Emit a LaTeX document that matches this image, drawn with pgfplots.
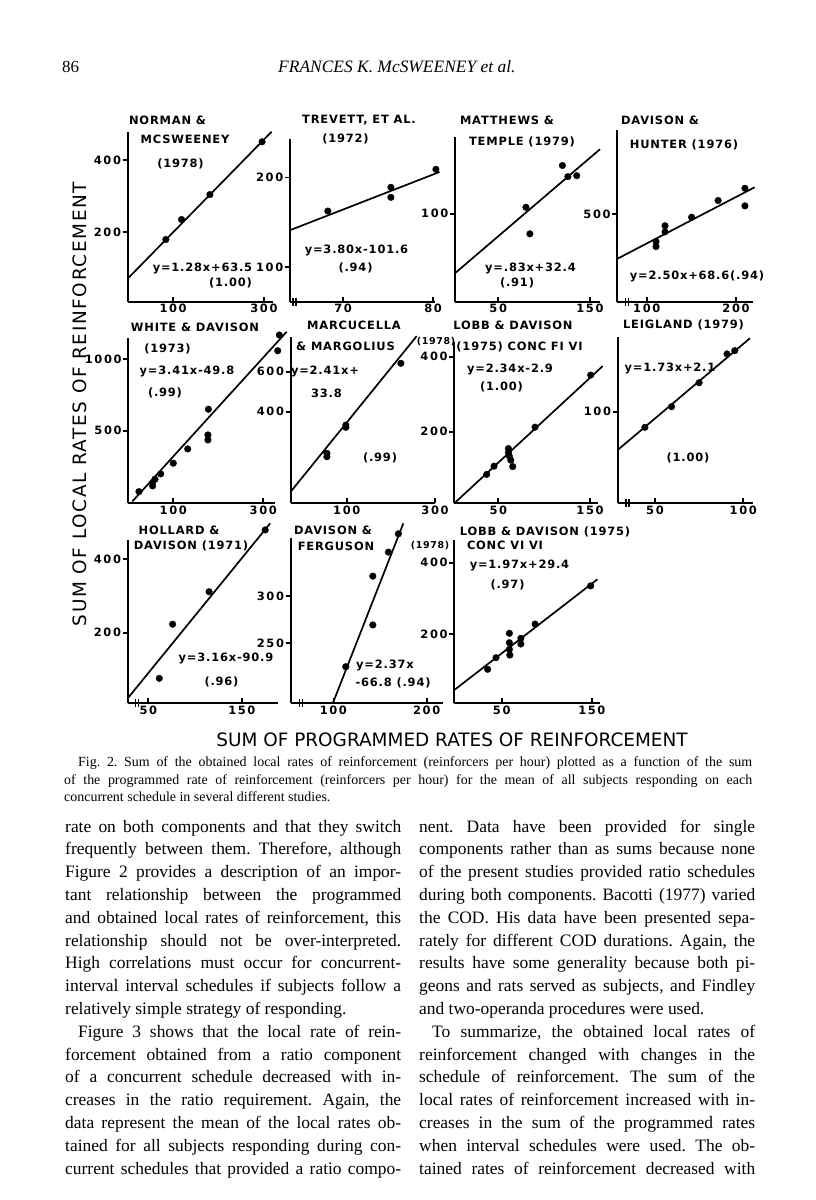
\documentclass[border=0pt]{standalone}
\usepackage{pgfplots}
\pgfplotsset{compat=1.18}
\usepackage{fontspec}
\setmainfont{Liberation Serif}
\newfontfamily\letfont[LetterSpace=7]{DejaVu Sans}
\newfontfamily\tickfam[LetterSpace=14]{DejaVu Sans}
\newfontfamily\labfont{DejaVu Sans}
\newfontfamily\ylabfont[LetterSpace=9]{DejaVu Sans}
\newcommand\LT{\letfont\bfseries\fontsize{11.5}{13}\selectfont}
\newcommand\LTs{\letfont\bfseries\fontsize{9.5}{10}\selectfont}
\newcommand\TK{\tickfam\bfseries\fontsize{11.5}{13}\selectfont}
\pgfplotsset{panel/.style={scale only axis, anchor=south west, clip=false,
  axis x line=bottom, axis y line=left, axis line style={-, line width=2.2bp},
  xtick align=inside, ytick align=outside, major tick length=5bp,
  tick style={black, line width=1.7bp},
  /pgf/number format/assume math mode=true,
  /pgf/number format/1000 sep={},
  scaled ticks=false,
  tick label style={font=\TK},
  xticklabel style={inner sep=2bp},
  yticklabel style={inner sep=1.5bp}},
  fit/.style={black, line width=1.7bp, mark=none},
  pts/.style={black, only marks, mark=*, mark size=3.3bp, mark options={fill=black}}}
\newcommand\bl[3]{\node[anchor=base west, inner sep=0pt, font=\fontsize{17.5}{20}\selectfont] at (#1bp,-#2bp) {\makebox[336bp][s]{#3}};}
\newcommand\nl[3]{\node[anchor=base west, inner sep=0pt, font=\fontsize{17.5}{20}\selectfont] at (#1bp,-#2bp) {#3};}
\newcommand\T[3]{\node[font=\LT, inner sep=0pt] at (#1bp,-#2bp) {#3};}
\begin{document}
\frenchspacing
\begin{tikzpicture}
\path[fill=white] (0,0) rectangle (816bp,-1200bp);
% ---------- header
\node[anchor=base west, inner sep=0pt, font=\fontsize{17}{20}\selectfont] at (62bp,-72bp) {86};
\node[anchor=base west, inner sep=0pt, font=\fontsize{17.5}{20}\selectfont\itshape] at (278bp,-72bp) {FRANCES K. McSWEENEY et al.};
% ---------- row 1
\begin{axis}[panel, at={(127.7bp,-302bp)}, width=145.3bp, height=170.3bp,
  xmin=0, xmax=320, ymin=5, ymax=479, xtick={100,300}, ytick={200,400}]
\addplot[fit] coordinates {(0,70) (317,479)};
\addplot[pts] coordinates {(84,179) (118.5,234.6) (181,304) (296,451)};
\end{axis}
\begin{axis}[panel, at={(290bp,-302bp)}, width=145bp, height=162.7bp,
  xmin=64.1, xmax=80.2, ymin=60.8, ymax=242.5, xtick={70,80}, ytick={100,200}]
\addplot[fit] coordinates {(64.1,141) (80.7,206)};
\addplot[pts] coordinates {(68.3,162.4) (75.3,188.9) (75.3,177.7) (80.3,209)};
\end{axis}
\begin{axis}[panel, at={(455bp,-302bp)}, width=145bp, height=165.3bp,
  xmin=2.8, xmax=161, ymin=5, ymax=183, xtick={50,150}, ytick={100}]
\addplot[fit] coordinates {(2.8,36) (161,169.5)};
\addplot[pts] coordinates {(80.2,107) (84.5,78.4) (120,152) (126,140) (135.6,141)};
\end{axis}
\begin{axis}[panel, at={(617.3bp,-302bp)}, width=136bp, height=172bp,
  xmin=67, xmax=219.4, ymin=25, ymax=952, xtick={100,200}, ytick={500}]
\addplot[fit] coordinates {(67,258) (221,643.5)};
\addplot[pts] coordinates {(110.4,351) (110.4,324) (120.5,436) (120.5,403) (150.3,482) (180,572) (210,638) (210,543)};
\end{axis}
% ---------- row 2
\begin{axis}[panel, at={(128.3bp,-503.3bp)}, width=146.7bp, height=165bp,
  xmin=0, xmax=326, ymin=-9, ymax=1147, xtick={100,300}, ytick={500,1000}]
\addplot[fit] coordinates {(9,4) (352,1193)};
\addplot[pts] coordinates {(23.7,73) (54,136) (54,113) (59.3,160) (72,197) (100,272) (132,372) (178,650) (177,470) (177,435) (332,1060) (335.6,1170)};
\end{axis}
\begin{axis}[panel, at={(290.7bp,-503.3bp)}, width=144.3bp, height=166.6bp,
  xmin=-27, xmax=300, ymin=-58, ymax=775, xtick={100,300}, ytick={400,600}]
\addplot[fit] coordinates {(-27,0) (258.5,778)};
\addplot[pts] coordinates {(55,192) (55,175) (98,333) (98,322) (222.6,642)};
\end{axis}
\begin{axis}[panel, at={(454.3bp,-503.3bp)}, width=144bp, height=161.6bp,
  xmin=2, xmax=159, ymin=9, ymax=440, xtick={50,150}, ytick={200,400}]
\addplot[fit] coordinates {(2,9) (163.8,375)};
\addplot[pts] coordinates {(37.3,86) (45.3,108) (61,155) (61,144) (62,135) (63.6,124) (65.7,107) (90,212) (150.7,351)};
\end{axis}
\begin{axis}[panel, at={(617.7bp,-503.3bp)}, width=135.6bp, height=166.6bp,
  xmin=28.9, xmax=105.7, ymin=-6.3, ymax=187, xtick={50,100}, ytick={100}]
\addplot[fit] coordinates {(28.9,55.6) (103.8,185.2)};
\addplot[pts] coordinates {(44.3,81.9) (59.4,105.8) (75,133.6) (90.8,167) (95.2,170.8)};
\end{axis}
% ---------- row 3
\begin{axis}[panel, at={(127.7bp,-703.3bp)}, width=150.6bp, height=163.3bp,
  xmin=28, xmax=189, ymin=7.5, ymax=452.6, xtick={50,150}, ytick={200,400}]
\addplot[fit] coordinates {(28,21) (180.3,498)};
\addplot[pts] coordinates {(61.8,75.6) (76,223) (115,311.6) (175,480)};
\end{axis}
\begin{axis}[panel, at={(290.7bp,-703.3bp)}, width=152.6bp, height=165bp,
  xmin=54.3, xmax=217.8, ymin=186.6, ymax=361, xtick={100,200}, ytick={250,300}]
\addplot[fit] coordinates {(99.4,186.6) (175,376.8)};
\addplot[pts] coordinates {(113.3,225.3) (142.3,269.4) (142.3,321) (159,346.4) (169.7,365.8)};
\end{axis}
\begin{axis}[panel, at={(454.3bp,-703.3bp)}, width=145.7bp, height=163.3bp,
  xmin=-2.6, xmax=159, ymin=5.7, ymax=463.6, xtick={50,150}, ytick={200,400}]
\addplot[fit] coordinates {(-2.6,43) (156.2,353.5)};
\addplot[pts] coordinates {(34.4,101) (43.7,133.6) (58.5,202) (58.5,175.6) (58.5,157) (59,141) (71.2,188) (71.2,172) (87,228) (148.6,335)};
\end{axis}
% ---------- axis break marks
\foreach \bx/\by in {293/302, 625.5/302, 626/503.3, 135.5/703.3, 299.5/703.3}{
  \draw[line width=1.1bp] (\bx bp,-\by bp+4bp) -- (\bx bp,-\by bp-4bp) (\bx bp+3bp,-\by bp+4bp) -- (\bx bp+3bp,-\by bp-4bp);}
% ---------- panel lettering
\T{167.5}{120}{NORMAN \&}
\T{185}{139.3}{MCSWEENEY}
\T{180.5}{164}{(1978)}
\T{202.5}{268}{y=1.28x+63.5}
\T{230.5}{283}{(1.00)}
\T{359}{120}{TREVETT, ET AL.}
\T{345.5}{139}{(1972)}
\T{356.5}{250}{y=3.80x-101.6}
\T{355.5}{268}{(.94)}
\T{507}{120}{MATTHEWS \&}
\T{522}{141.7}{TEMPLE (1979)}
\T{530.5}{268}{y=.83x+32.4}
\T{517}{283}{(.91)}
\T{660}{120}{DAVISON \&}
\T{684}{145}{HUNTER (1976)}
\T{697}{276.7}{y=2.50x+68.6(.94)}
\T{195}{327.3}{WHITE \& DAVISON}
\T{167.5}{349.3}{(1973)}
\T{187}{371.7}{y=3.41x-49.8}
\T{165}{393.3}{(.99)}
\T{354}{325}{MARCUCELLA}
\T{345.5}{346.7}{\& MARGOLIUS}
\T{325}{371.7}{y=2.41x+}
\T{326.5}{393.3}{33.8}
\T{380}{458.3}{(.99)}
\node[font=\LTs, inner sep=0pt] at (436bp,-342bp) {(1978)};
\T{513}{325}{LOBB \& DAVISON}
\T{519.5}{347.3}{(1975) CONC FI VI}
\T{510}{369.3}{y=2.34x-2.9}
\T{501.5}{386.7}{(1.00)}
\T{683.5}{325}{LEIGLAND (1979)}
\T{670}{368.3}{y=1.73x+2.1}
\T{688}{458.3}{(1.00)}
\T{179}{530}{HOLLARD \&}
\T{191}{546}{DAVISON (1971)}
\T{226}{658.3}{y=3.16x-90.9}
\T{221.5}{681.7}{(.96)}
\T{333}{530}{DAVISON \&}
\T{336}{546.7}{FERGUSON}
\T{385}{665}{y=2.37x}
\T{393}{683.3}{-66.8 (.94)}
\node[font=\LTs, inner sep=0pt] at (430bp,-546bp) {(1978)};
\T{545}{531.7}{LOBB \& DAVISON (1975)}
\T{505}{545}{CONC VI VI}
\T{519.5}{565}{y=1.97x+29.4}
\T{507.5}{585}{(.97)}
% ---------- common axis labels
\node[font=\ylabfont\fontsize{18.5}{20}\selectfont, rotate=90, inner sep=0pt] at (80bp,-404bp) {SUM OF LOCAL RATES OF REINFORCEMENT};
\node[font=\labfont\fontsize{18.5}{20}\selectfont, inner sep=0pt] at (452bp,-740bp) {SUM OF PROGRAMMED RATES OF REINFORCEMENT};
% ---------- caption
\node[anchor=base west, inner sep=0pt, font=\fontsize{14}{16}\selectfont] at (64bp,-766bp) {\makebox[688bp][s]{\hspace*{14bp}Fig. 2. Sum of the obtained local rates of reinforcement (reinforcers per hour) plotted as a function of the sum}};
\node[anchor=base west, inner sep=0pt, font=\fontsize{14}{16}\selectfont] at (64bp,-784bp) {\makebox[688bp][s]{of the programmed rate of reinforcement (reinforcers per hour) for the mean of all subjects responding on each}};
\node[anchor=base west, inner sep=0pt, font=\fontsize{14}{16}\selectfont] at (64bp,-801bp) {concurrent schedule in several different studies.};
% ---------- body text, left column
\bl{65}{832}{rate on both components and that they switch}
\bl{65}{854.8}{frequently between them. Therefore, although}
\bl{65}{877.6}{Figure 2 provides a description of an impor-}
\bl{65}{900.4}{tant relationship between the programmed}
\bl{65}{923.2}{and obtained local rates of reinforcement, this}
\bl{65}{946}{relationship should not be over-interpreted.}
\bl{65}{968.8}{High correlations must occur for concurrent-}
\bl{65}{991.6}{interval interval schedules if subjects follow a}
\nl{65}{1014.4}{relatively simple strategy of responding.}
\bl{65}{1037.2}{\hspace*{13bp}Figure 3 shows that the local rate of rein-}
\bl{65}{1060}{forcement obtained from a ratio component}
\bl{65}{1082.8}{of a concurrent schedule decreased with in-}
\bl{65}{1105.6}{creases in the ratio requirement. Again, the}
\bl{65}{1128.4}{data represent the mean of the local rates ob-}
\bl{65}{1151.2}{tained for all subjects responding during con-}
\bl{65}{1174}{current schedules that provided a ratio compo-}
% ---------- body text, right column
\bl{419}{832}{nent. Data have been provided for single}
\bl{419}{854.8}{components rather than as sums because none}
\bl{419}{877.6}{of the present studies provided ratio schedules}
\bl{419}{900.4}{during both components. Bacotti (1977) varied}
\bl{419}{923.2}{the COD. His data have been presented sepa-}
\bl{419}{946}{rately for different COD durations. Again, the}
\bl{419}{968.8}{results have some generality because both pi-}
\bl{419}{991.6}{geons and rats served as subjects, and Findley}
\nl{419}{1014.4}{and two-operanda procedures were used.}
\bl{419}{1037.2}{\hspace*{13bp}To summarize, the obtained local rates of}
\bl{419}{1060}{reinforcement changed with changes in the}
\bl{419}{1082.8}{schedule of reinforcement. The sum of the}
\bl{419}{1105.6}{local rates of reinforcement increased with in-}
\bl{419}{1128.4}{creases in the sum of the programmed rates}
\bl{419}{1151.2}{when interval schedules were used. The ob-}
\bl{419}{1174}{tained rates of reinforcement decreased with}
\end{tikzpicture}
\end{document}
